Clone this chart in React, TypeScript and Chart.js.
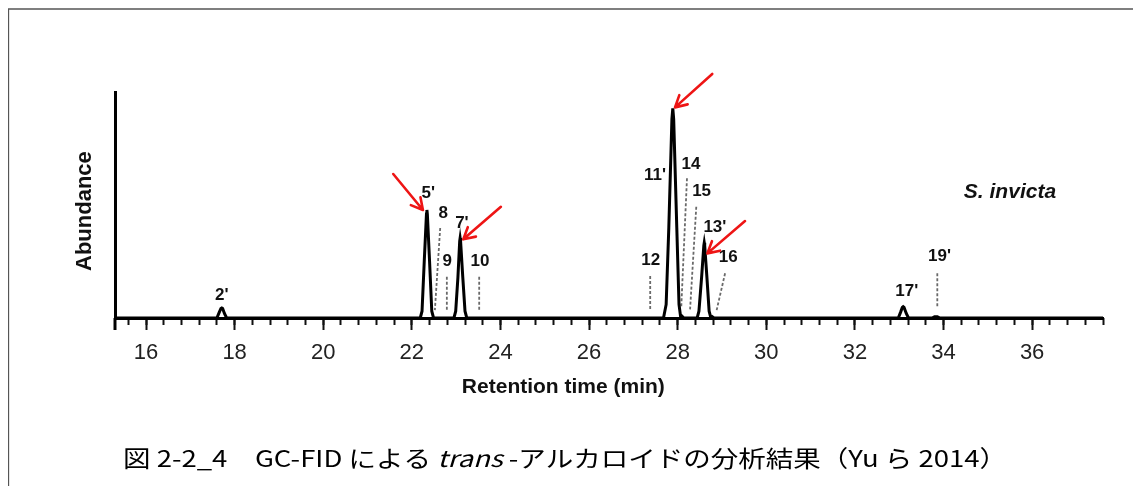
import React, { useEffect, useRef } from "react";
import { Chart, registerables } from "chart.js";

Chart.register(...registerables);

// ---- axis ranges / ticks ----
const X_MIN = 15.3;
const X_MAX = 37.6;
const Y_MIN = 0;
const Y_MAX = 100;
const MAJOR_STEP = 2;
const MINOR_STEP = 0.4;

// ---- chromatogram trace (retention time in min, relative abundance) ----
const TRACE_TIME = [
  15.3,
  17.6, 17.65, 17.69, 17.71, 17.73, 17.77, 17.82,
  22.19, 22.23, 22.28, 22.33, 22.34, 22.35, 22.4, 22.45, 22.49,
  22.95, 22.99, 23.04, 23.08, 23.09, 23.1, 23.15, 23.2, 23.24,
  27.68, 27.74, 27.8, 27.87, 27.89, 27.91, 27.98, 28.03, 28.07, 28.1, 28.14,
  28.44, 28.48, 28.54, 28.59, 28.6, 28.61, 28.66, 28.71, 28.75, 28.78, 28.82,
  32.98, 33.03, 33.07, 33.09, 33.11, 33.16, 33.21,
  33.74, 33.8, 33.86, 33.92,
  37.6,
];
const TRACE_ABUNDANCE = [
  0,
  0, 2.4, 4.2, 4.4, 4.2, 2, 0,
  0, 3, 25, 46, 47.8, 46, 25, 3, 0,
  0, 3, 18, 34, 35.4, 34, 18, 3, 0,
  0, 6, 40, 88, 92.8, 88, 40, 6, 0, 0.8, 0,
  0, 3, 18, 32, 33.3, 32, 18, 3, 0, 0.6, 0,
  0, 2.5, 4.7, 5, 4.7, 2, 0,
  0, 0.6, 0.6, 0,
  0,
];

// ---- dotted markers for compounds not detected ----
const MARKER_TOP_TIME = [22.64, 22.79, 23.52, 27.38, 28.21, 28.42, 29.07, 33.86];
const MARKER_TOP_ABUNDANCE = [39.8, 18.3, 18.3, 18.6, 61.8, 49.2, 19.8, 19.8];
const MARKER_BOTTOM_TIME = [22.52, 22.79, 23.52, 27.38, 28.08, 28.28, 28.88, 33.86];
const MARKER_BOTTOM_ABUNDANCE = [3.5, 3.5, 2.8, 3.5, 4.3, 3.8, 3.5, 4.3];

// ---- peak labels ----
const LABEL_TEXT = ["2'", "5'", "8", "7'", "9", "10", "12", "11'", "14", "15", "13'", "16", "17'", "19'"];
const LABEL_TIME = [17.71, 22.37, 22.71, 23.13, 22.8, 23.54, 27.39, 27.49, 28.3, 28.54, 28.84, 29.14, 33.17, 33.91];
const LABEL_ABUNDANCE = [10.2, 55.2, 46.3, 41.9, 24.9, 24.9, 25.7, 63.0, 68.1, 55.9, 40.0, 26.9, 11.9, 27.1];

// ---- red arrows ----
const ARROW_TAIL_TIME = [21.58, 24.01, 28.78, 29.52];
const ARROW_TAIL_ABUNDANCE = [63.7, 49.2, 108, 42.9];
const ARROW_HEAD_TIME = [22.25, 23.16, 27.94, 28.67];
const ARROW_HEAD_ABUNDANCE = [47.8, 34.8, 93.2, 28.6];

// ---- texts ----
const SPECIES = "S. invicta";
const SPECIES_TIME = 35.5;
const SPECIES_ABUNDANCE = 55.8;
const X_TITLE = "Retention time (min)";
const X_TITLE_TIME = 25.42;
const Y_TITLE = "Abundance";
const Y_TITLE_ABUNDANCE = 47.3;
const CAPTION_PARTS = [
  { text: "図 2-2_4\u3000GC-FID による ", italic: false },
  { text: "trans", italic: true },
  { text: " -アルカロイドの分析結果（Yu ら 2014）", italic: false },
];

const W = 1133;
const H = 478;

const framePlugin = {
  id: "frame",
  beforeDraw(chart: any) {
    const { ctx } = chart;
    ctx.save();
    ctx.strokeStyle = "#555";
    ctx.lineWidth = 1.5;
    ctx.beginPath();
    ctx.moveTo(0.4, H);
    ctx.lineTo(0.4, 0.9);
    ctx.lineTo(W, 0.9);
    ctx.stroke();
    ctx.restore();
  },
};

const overlayPlugin = {
  id: "overlay",
  afterDatasetsDraw(chart: any) {
    const { ctx, chartArea } = chart;
    const xs = chart.scales.x;
    const ys = chart.scales.y;
    ctx.save();

    // y axis line continues a little below the baseline
    ctx.strokeStyle = "#000";
    ctx.lineWidth = 3;
    ctx.beginPath();
    ctx.moveTo(chartArea.left, chartArea.bottom);
    ctx.lineTo(chartArea.left, chartArea.bottom + 12);
    ctx.stroke();

    // peak labels
    ctx.fillStyle = "#111";
    ctx.textAlign = "center";
    ctx.textBaseline = "middle";
    ctx.font = 'bold 17px "Liberation Sans", Arial, sans-serif';
    LABEL_TEXT.forEach((t, i) => {
      ctx.fillText(t, xs.getPixelForValue(LABEL_TIME[i]), ys.getPixelForValue(LABEL_ABUNDANCE[i]));
    });

    // species
    ctx.font = 'italic bold 21px "Liberation Sans", Arial, sans-serif';
    ctx.fillText(SPECIES, xs.getPixelForValue(SPECIES_TIME), ys.getPixelForValue(SPECIES_ABUNDANCE));

    // arrows
    ctx.strokeStyle = "#ee1515";
    ctx.lineWidth = 2.6;
    ctx.lineCap = "round";
    ctx.lineJoin = "round";
    ARROW_TAIL_TIME.forEach((_, i) => {
      const x1 = xs.getPixelForValue(ARROW_TAIL_TIME[i]);
      const y1 = ys.getPixelForValue(ARROW_TAIL_ABUNDANCE[i]);
      const x2 = xs.getPixelForValue(ARROW_HEAD_TIME[i]);
      const y2 = ys.getPixelForValue(ARROW_HEAD_ABUNDANCE[i]);
      const a = Math.atan2(y2 - y1, x2 - x1);
      const L = 13;
      const s = 0.5;
      ctx.beginPath();
      ctx.moveTo(x1, y1);
      ctx.lineTo(x2, y2);
      ctx.moveTo(x2 - L * Math.cos(a - s), y2 - L * Math.sin(a - s));
      ctx.lineTo(x2, y2);
      ctx.lineTo(x2 - L * Math.cos(a + s), y2 - L * Math.sin(a + s));
      ctx.stroke();
    });

    // axis titles
    ctx.fillStyle = "#111";
    ctx.font = 'bold 21px "Liberation Sans", Arial, sans-serif';
    ctx.fillText(X_TITLE, xs.getPixelForValue(X_TITLE_TIME), chartArea.bottom + 69);
    ctx.save();
    ctx.translate(chartArea.left - 30, ys.getPixelForValue(Y_TITLE_ABUNDANCE));
    ctx.rotate(-Math.PI / 2);
    ctx.font = 'bold 22px "Liberation Sans", Arial, sans-serif';
    ctx.fillText(Y_TITLE, 0, 0);
    ctx.restore();

    // caption
    const normal = '23px "Noto Sans CJK JP", sans-serif';
    const italic = 'italic 23px "Noto Sans CJK JP", sans-serif';
    let total = 0;
    const widths = CAPTION_PARTS.map((p) => {
      ctx.font = p.italic ? italic : normal;
      const w = ctx.measureText(p.text).width;
      total += w;
      return w;
    });
    const targetW = 884;
    const k = targetW / total;
    ctx.translate(115, 450);
    ctx.scale(k, 1);
    ctx.textAlign = "left";
    ctx.fillStyle = "#000";
    let cx = 0;
    CAPTION_PARTS.forEach((p, i) => {
      ctx.font = p.italic ? italic : normal;
      ctx.fillText(p.text, cx, 0);
      cx += widths[i];
    });
    ctx.restore();
  },
};

export default function App() {
  const ref = useRef<HTMLCanvasElement | null>(null);

  useEffect(() => {
    if (!ref.current) return;
    const trace = TRACE_TIME.map((t, i) => ({ x: t, y: TRACE_ABUNDANCE[i] }));
    const markerSets = MARKER_TOP_TIME.map((_, i) => ({
      data: [
        { x: MARKER_TOP_TIME[i], y: MARKER_TOP_ABUNDANCE[i] },
        { x: MARKER_BOTTOM_TIME[i], y: MARKER_BOTTOM_ABUNDANCE[i] },
      ],
      borderColor: "#6a6a6a",
      borderWidth: 1.8,
      borderDash: [3, 2],
      pointRadius: 0,
      tension: 0,
      xAxisID: "x",
      yAxisID: "y",
    }));
    const chart = new Chart(ref.current, {
      type: "line",
      data: {
        datasets: [
          {
            data: trace,
            borderColor: "#000",
            borderWidth: 3,
            pointRadius: 0,
            tension: 0,
            xAxisID: "x",
            yAxisID: "y",
          } as any,
          ...markerSets,
        ],
      },
      options: {
        animation: false,
        responsive: false,
        devicePixelRatio: 1,
        events: [],
        layout: { padding: { left: 0, top: 84, right: 38, bottom: 0 } },
        plugins: { legend: { display: false }, tooltip: { enabled: false } },
        scales: {
          xMinor: {
            type: "linear",
            position: "bottom",
            weight: -1,
            min: X_MIN,
            max: X_MAX,
            ticks: { stepSize: MINOR_STEP, display: false, includeBounds: false },
            grid: { drawOnChartArea: false, tickLength: 7, tickWidth: 2, tickColor: "#111" },
            border: { display: false },
            afterFit: (s: any) => {
              s.height = 0;
            },
          },
          x: {
            type: "linear",
            position: "bottom",
            min: X_MIN,
            max: X_MAX,
            ticks: {
              stepSize: MAJOR_STEP,
              includeBounds: false,
              autoSkip: false,
              maxRotation: 0,
              padding: 10,
              color: "#222",
              font: { family: '"Liberation Sans Narrow", "Arial Narrow", "Liberation Sans", Arial, sans-serif', size: 22 },
            },
            grid: { drawOnChartArea: false, tickLength: 12, tickWidth: 2, tickColor: "#111" },
            border: { display: true, width: 3, color: "#000" },
            afterFit: (s: any) => {
              s.height = 168;
            },
          },
          y: {
            type: "linear",
            position: "left",
            min: Y_MIN,
            max: Y_MAX,
            ticks: { display: false },
            grid: { display: false },
            border: { display: true, width: 3, color: "#000" },
            afterFit: (s: any) => {
              s.width = 107;
            },
          },
        },
      } as any,
      plugins: [framePlugin, overlayPlugin],
    });
    return () => chart.destroy();
  }, []);

  return (
    <div style={{ position: "relative", width: W, height: H }}>
      <style>{"html,body{overflow:hidden;background:#fff}"}</style>
      <canvas ref={ref} width={W} height={H} style={{ position: "absolute", left: 0, top: 0 }} />
    </div>
  );
}
